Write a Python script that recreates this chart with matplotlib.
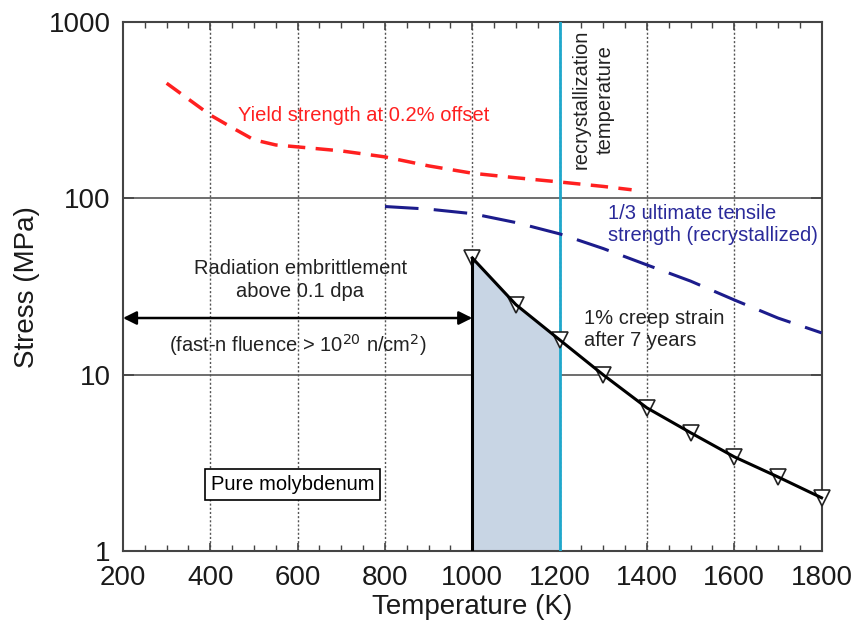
import numpy as np
import matplotlib.pyplot as plt
from matplotlib.ticker import FixedLocator, NullLocator

plt.rcParams['font.family'] = ['Liberation Sans', 'DejaVu Sans']

# yield strength at 0.2% offset
yield_T = [300, 400, 450, 500, 550, 600, 700, 800, 900, 1000, 1100, 1200, 1300, 1365]
yield_s = [450, 297, 252, 215, 201, 196, 186, 172, 153, 139, 131, 124, 117, 112]

# 1/3 ultimate tensile strength (recrystallized)
uts_T = [800, 900, 1000, 1100, 1200, 1300, 1400, 1500, 1600, 1700, 1800]
uts_s = [90, 87, 82, 73, 63, 52, 42, 34, 26.6, 21, 17.3]

# 1% creep strain after 7 years
creep_T = [1000, 1100, 1200, 1300, 1400, 1500, 1600, 1700, 1800]
creep_s = [46, 25, 15.8, 10, 6.5, 4.7, 3.43, 2.64, 2.01]

recryst_T = 1200
embrit_T = 1000

fig = plt.figure(figsize=(8.54, 6.3), dpi=100)
ax = fig.add_axes([0.144, 0.125, 0.818, 0.84])
ax.set_yscale('log')
ax.set_xlim(200, 1800)
ax.set_ylim(1, 1000)

# grid
for t in [400, 600, 800, 1000, 1200, 1400, 1600]:
    ax.axvline(t, color='#555555', lw=1.0, ls=(0, (1.5, 1.5)), zorder=1)
for s in [10, 100]:
    ax.axhline(s, color='#555555', lw=1.2, zorder=1)

# shaded region under creep curve
cT = np.array(creep_T)
cs = np.array(creep_s)
m = cT <= recryst_T
ax.fill_between(cT[m], 1, cs[m], color='#c8d5e4', zorder=2)
ax.plot([embrit_T, embrit_T], [1, creep_s[0]], color='black', lw=2.2, zorder=5)
ax.axvline(recryst_T, color='#1fa8cc', lw=2, zorder=3)

ax.plot(yield_T, yield_s, color='#ff2020', lw=2.5, ls=(0, (5, 3)), zorder=3)
ax.plot(uts_T, uts_s, color='#1c1c8c', lw=2.2, ls=(0, (11, 5)), zorder=3)
ax.plot(creep_T, creep_s, ls='none', marker='v', ms=11, mfc='white',
        mec='#222222', mew=1.2, zorder=4, clip_on=False)
ax.plot(creep_T, creep_s, color='black', lw=2.2, zorder=5, clip_on=False)

# arrow
ax.annotate('', xy=(200, 21), xytext=(embrit_T, 21),
            arrowprops=dict(arrowstyle='<|-|>', color='black', lw=1.8,
                            mutation_scale=20, shrinkA=0, shrinkB=0), zorder=4)

fs = 14.5
ax.text(606, 34.5, 'Radiation embrittlement\nabove 0.1 dpa', ha='center',
        va='center', fontsize=fs, color='#222222', linespacing=1.25)
ax.text(600, 14.8, '(fast-n fluence > 10$^{20}$ n/cm$^{2}$)', ha='center',
        va='center', fontsize=fs, color='#222222')
ax.text(1257, 18, '1% creep strain\nafter 7 years', ha='left', va='center',
        fontsize=fs, color='#222222', linespacing=1.2)
ax.text(401, 2.4, 'Pure molybdenum', ha='left', va='center', fontsize=fs,
        color='black', bbox=dict(boxstyle='square,pad=0.3', fc='white',
                                 ec='black', lw=1.2))
ax.text(463, 297, 'Yield strength at 0.2% offset', ha='left', va='center',
        fontsize=fs, color='#ff2020')
ax.text(1310, 71, '1/3 ultimate tensile\nstrength (recrystallized)', ha='left',
        va='center', fontsize=fs, color='#2a2a9a', linespacing=1.2)
ax.text(1277, 900, 'recrystallization\ntemperature', ha='center', va='top',
        rotation=90, fontsize=fs, color='#222222', linespacing=1.3)

ax.set_xticks(range(200, 1801, 200))
ax.xaxis.set_minor_locator(FixedLocator(range(250, 1800, 50)))
ax.yaxis.set_minor_locator(NullLocator())
ax.set_yticks([1, 10, 100, 1000])
ax.set_yticklabels(['1', '10', '100', '1000'])
ax.tick_params(axis='both', which='both', direction='in', top=True,
               right=True, labelsize=20, color='#444444', labelcolor='#1a1a1a')
ax.tick_params(which='major', length=6, width=1.2)
ax.tick_params(which='minor', length=4, width=1.0)
ax.tick_params(axis='x', which='major', pad=10)
ax.tick_params(axis='y', which='major', length=8, width=1.2, pad=9)
for sp in ax.spines.values():
    sp.set_linewidth(1.5)
    sp.set_color('#444444')

ax.set_xlabel('Temperature (K)', fontsize=20, labelpad=2, color='#1a1a1a')
ax.set_ylabel('Stress (MPa)', fontsize=20, labelpad=6, color='#1a1a1a')

fig.savefig('out.png', dpi=100)
